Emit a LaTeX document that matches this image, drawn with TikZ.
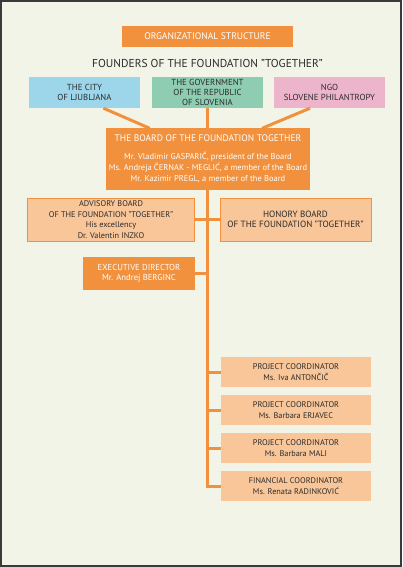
\documentclass[tikz,border=0pt]{standalone}
\usepackage{fontspec}
\setmainfont{PT Sans}
\usetikzlibrary{calc}

\definecolor{orgorange}{HTML}{F1913D}
\definecolor{orglight}{HTML}{F9C699}
\definecolor{orgblue}{HTML}{9DD6EB}
\definecolor{orgteal}{HTML}{8FCDB3}
\definecolor{orgpink}{HTML}{EDB5CC}
\definecolor{orgback}{HTML}{F3F4E8}
\definecolor{orgframe}{HTML}{3A3A3A}
\definecolor{orgtext}{HTML}{2B2B2B}

\tikzset{
	darkbox/.style={shape=rectangle, fill=orgorange, text=white, align=center, inner sep=0pt},
	lightbox/.style={shape=rectangle, fill=orglight, text=orgtext, align=center, inner sep=0pt},
	founder/.style={shape=rectangle, align=center, inner sep=0pt, text=orgtext,
		minimum width=111bp, minimum height=31bp, font=\fontsize{8.8}{10.3}\selectfont},
	coord/.style={lightbox, minimum width=150bp, minimum height=30bp, font=\fontsize{8.3}{10.7}\selectfont},
	link/.style={draw=orgorange, line width=3bp}
}

\begin{document}
\begin{tikzpicture}[x=1bp, y=-1bp]
	% frame and background
	\path[fill=orgback, draw=orgframe, line width=2bp] (1,1) rectangle (401,566);
	\useasboundingbox (0,0) rectangle (402,567);

	\node (z0)[darkbox, minimum width=171bp, minimum height=21bp, font=\fontsize{9.6}{11}\selectfont]
	at (207.5,36.5) {ORGANIZATIONAL STRUCTURE};

	\node (t0)[text=orgtext, inner sep=0pt, font=\fontsize{11.5}{13}\selectfont]
	at (207.5,63) {FOUNDERS OF THE FOUNDATION "TOGETHER"};

	\node (z1)[founder, fill=orgblue] at (84.5,92.5) {THE CITY \\ OF LJUBLJANA};
	\node (z2)[founder, fill=orgteal] at (207.5,92.5) {THE GOVERNMENT \\ OF THE REPUBLIC \\ OF SLOVENIA};
	\node (z3)[founder, fill=orgpink] at (329.5,92.5) {NGO \\ SLOVENE PHILANTROPY};

	\node (z4)[darkbox, minimum width=204bp, minimum height=61bp] at (208,159) {
		{\fontsize{9.5}{11}\selectfont THE BOARD OF THE FOUNDATION TOGETHER} \\[6pt]
		{\fontsize{8.5}{10.7}\selectfont Mr. Vladimir GASPARIČ, president of the Board} \\[-1pt]
		{\fontsize{8.5}{10.7}\selectfont Ms. Andreja ČERNAK - MEGLIĆ, a member of the Board} \\[-1pt]
		{\fontsize{8.5}{10.7}\selectfont Mr. Kazimir PREGL, a member of the Board}
	};

	\node (z5)[lightbox, draw=orgorange, line width=1bp, minimum width=166bp, minimum height=43bp,
		font=\fontsize{8.3}{10.5}\selectfont] at (111,219.5) {
		ADVISORY BOARD \\ OF THE FOUNDATION "TOGETHER" \\ His excellency \\ Dr. Valentin INZKO
	};

	\node (z6)[lightbox, draw=orgorange, line width=1bp, minimum width=151bp, minimum height=43bp,
		font=\fontsize{9.1}{10.5}\selectfont] at (295.5,219.5) {
		HONORY BOARD \\ OF THE FOUNDATION "TOGETHER"
	};

	\node (z7)[darkbox, minimum width=112bp, minimum height=33bp, font=\fontsize{8.7}{10.7}\selectfont]
	at (139,273.5) {EXECUTIVE DIRECTOR \\ Mr. Andrej BERGINC};

	\node (z8)[coord] at (296,372) {PROJECT COORDINATOR \\ Ms. Iva ANTONČIČ};
	\node (z9)[coord] at (296,410) {PROJECT COORDINATOR \\ Ms. Barbara ERJAVEC};
	\node (z10)[coord] at (296,448) {PROJECT COORDINATOR \\ Ms. Barbara MALI};
	\node (z11)[coord] at (296,486) {FINANCIAL COORDINATOR \\ Ms. Renata RADINKOVIĆ};

	\coordinate (end) at (z4.south |- z11.west);

	% connectors
	\path[link] ($(z1.south)!0.34!(z1.south east)$) -- ($(z4.north west)!0.215!(z4.north east)$);
	\path[link] (z2.south) -- (z2.south |- z4.north);
	\path[link] ($(z3.south)!0.35!(z3.south west)$) -- ($(z4.north east)!0.235!(z4.north west)$);
	\path[link] (z2.south |- z4.south) -- (z2.south |- end);
	\path[link] (z5.east) -- (z6.west);
	\path[link] (z7.east) -- (z7.east -| z2.south);
	\path[link] (z8.west -| z2.south) -- (z8.west);
	\path[link] (z9.west -| z2.south) -- (z9.west);
	\path[link] (z10.west -| z2.south) -- (z10.west);
	\path[link] ([xshift=-1.5bp]z11.west -| z2.south) -- (z11.west);
\end{tikzpicture}
\end{document}
